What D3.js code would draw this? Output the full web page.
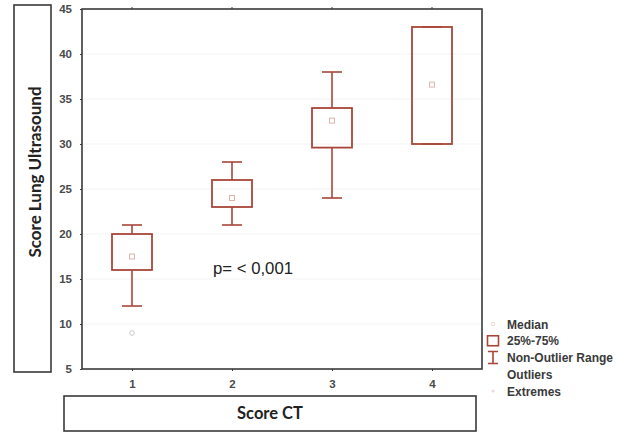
<!DOCTYPE html>
<html>
<head>
<meta charset="utf-8">
<script src="https://cdn.jsdelivr.net/npm/d3@7.9.0/dist/d3.min.js"></script>
<style>
  body { margin: 0; background: #fff; }
  svg { display: block; }
</style>
</head>
<body>
<svg width="627" height="433"></svg>
<script>
// values
const groups = [1, 2, 3, 4];
const whiskerLow = [12, 21, 24, 30];
const boxLow = [16, 23, 29.6, 30];
const medians = [17.5, 24, 32.6, 36.6];
const boxHigh = [20, 26, 34, 43];
const whiskerHigh = [21, 28, 38, 43];
const outliers = [[1, 9]];
const yTicks = [5, 10, 15, 20, 25, 30, 35, 40, 45];
const legendItems = ['Median', '25%-75%', 'Non-Outlier Range', 'Outliers', 'Extremes'];

const boxColor = '#a9463a';
const frameColor = '#3a3a3a';

const svg = d3.select('svg');

const x = d3.scaleLinear().domain([0.5, 4.5]).range([82, 482]);
const y = d3.scaleLinear().domain([5, 45]).range([369, 9]);

// faint grid
svg.append('g')
  .selectAll('line')
  .data(yTicks.slice(1, -1))
  .join('line')
  .attr('x1', x(0.5)).attr('x2', x(4.5))
  .attr('y1', d => y(d)).attr('y2', d => y(d))
  .attr('stroke', '#f3f3f3');

// axes
svg.append('g')
  .attr('transform', `translate(${x(0.5)},0)`)
  .call(d3.axisLeft(y).tickValues(yTicks).tickSize(2).tickPadding(8))
  .call(g => g.select('.domain').remove())
  .call(g => g.selectAll('.tick line').attr('stroke', frameColor))
  .call(g => g.selectAll('text').attr('font-family', 'Liberation Sans, Arial, sans-serif')
    .attr('font-size', 11.5).attr('font-weight', 'bold').attr('fill', '#4a4a4a'));

svg.append('g')
  .attr('transform', `translate(0,${y(5)})`)
  .call(d3.axisBottom(x).tickValues(groups).tickFormat(d3.format('d')).tickSize(2).tickPadding(9))
  .call(g => g.select('.domain').remove())
  .call(g => g.selectAll('.tick line').attr('stroke', frameColor))
  .call(g => g.selectAll('text').attr('font-family', 'Liberation Sans, Arial, sans-serif')
    .attr('font-size', 11.5).attr('font-weight', 'bold').attr('fill', '#4a4a4a'));

// top small ticks
svg.append('g').selectAll('line').data(groups).join('line')
  .attr('x1', d => x(d)).attr('x2', d => x(d))
  .attr('y1', y(45)).attr('y2', y(45) - 2)
  .attr('stroke', frameColor);

// frame
svg.append('rect')
  .attr('x', x(0.5)).attr('y', y(45))
  .attr('width', x(4.5) - x(0.5)).attr('height', y(5) - y(45))
  .attr('fill', 'none').attr('stroke', frameColor).attr('stroke-width', 1.6);

// boxes
const bw = 40, cw = 20;
const g = svg.append('g');
groups.forEach((grp, i) => {
  const cx = x(grp);
  g.append('line')
    .attr('x1', cx).attr('x2', cx)
    .attr('y1', y(whiskerHigh[i])).attr('y2', y(boxHigh[i]))
    .attr('stroke', boxColor).attr('stroke-width', 1.6);
  g.append('line')
    .attr('x1', cx).attr('x2', cx)
    .attr('y1', y(boxLow[i])).attr('y2', y(whiskerLow[i]))
    .attr('stroke', boxColor).attr('stroke-width', 1.6);
  [whiskerHigh[i], whiskerLow[i]].forEach(v => {
    g.append('line')
      .attr('x1', cx - cw / 2).attr('x2', cx + cw / 2)
      .attr('y1', y(v)).attr('y2', y(v))
      .attr('stroke', boxColor).attr('stroke-width', 1.6);
  });
  g.append('rect')
    .attr('x', cx - bw / 2).attr('y', y(boxHigh[i]))
    .attr('width', bw).attr('height', y(boxLow[i]) - y(boxHigh[i]))
    .attr('fill', 'none').attr('stroke', boxColor).attr('stroke-width', 1.8);
  g.append('rect')
    .attr('x', cx - 2.5).attr('y', y(medians[i]) - 2.5)
    .attr('width', 5).attr('height', 5)
    .attr('fill', 'none').attr('stroke', '#e2b3aa').attr('stroke-width', 1);
});

g.selectAll('circle.out').data(outliers).join('circle')
  .attr('class', 'out')
  .attr('cx', d => x(d[0])).attr('cy', d => y(d[1]))
  .attr('r', 2.3)
  .attr('fill', 'none').attr('stroke', '#c8c8c8').attr('stroke-width', 1);

// p-value
svg.append('text')
  .attr('x', 213).attr('y', 274)
  .attr('font-family', 'Liberation Sans, Arial, sans-serif')
  .attr('font-size', 16.5).attr('fill', '#222')
  .attr('textLength', 80).attr('lengthAdjust', 'spacingAndGlyphs')
  .text('p= < 0,001');

// axis title boxes
svg.append('rect')
  .attr('x', 14).attr('y', 5).attr('width', 37).attr('height', 367)
  .attr('fill', 'none').attr('stroke', frameColor).attr('stroke-width', 1.6);
svg.append('text')
  .attr('transform', 'translate(41,172) rotate(-90)')
  .attr('text-anchor', 'middle')
  .attr('font-family', 'Lato, sans-serif').attr('font-weight', 'bold')
  .attr('font-size', 17).attr('fill', '#222')
  .text('Score Lung Ultrasound');

svg.append('rect')
  .attr('x', 64).attr('y', 396).attr('width', 412).attr('height', 35)
  .attr('fill', 'none').attr('stroke', frameColor).attr('stroke-width', 1.6);
svg.append('text')
  .attr('x', 270).attr('y', 419)
  .attr('text-anchor', 'middle')
  .attr('font-family', 'Lato, sans-serif').attr('font-weight', 'bold')
  .attr('font-size', 16.5).attr('fill', '#222')
  .text('Score CT');

// legend
const lg = svg.append('g').attr('transform', 'translate(493,0)');
const ly = d3.scalePoint().domain(legendItems).range([324, 391]);
lg.selectAll('text').data(legendItems).join('text')
  .attr('x', 14).attr('y', d => ly(d) + 4.5)
  .attr('font-family', 'Liberation Sans, Arial, sans-serif')
  .attr('font-size', 12).attr('font-weight', 'bold').attr('fill', '#3a3a3a')
  .text(d => d);

lg.append('rect')
  .attr('x', -1.5).attr('y', ly('Median') - 1.5).attr('width', 3).attr('height', 3)
  .attr('fill', 'none').attr('stroke', '#f3e2dc').attr('stroke-width', 1);
lg.append('rect')
  .attr('x', -5.5).attr('y', ly('25%-75%') - 5).attr('width', 11).attr('height', 10)
  .attr('fill', 'none').attr('stroke', boxColor).attr('stroke-width', 1.6);
const nr = ly('Non-Outlier Range');
lg.append('path')
  .attr('d', `M-5,${nr - 6}H5M0,${nr - 6}V${nr + 6}M-5,${nr + 6}H5`)
  .attr('fill', 'none').attr('stroke', boxColor).attr('stroke-width', 1.6);
lg.append('circle')
  .attr('cx', 0).attr('cy', ly('Extremes')).attr('r', 1.5)
  .attr('fill', '#eadad6');
</script>
</body>
</html>
